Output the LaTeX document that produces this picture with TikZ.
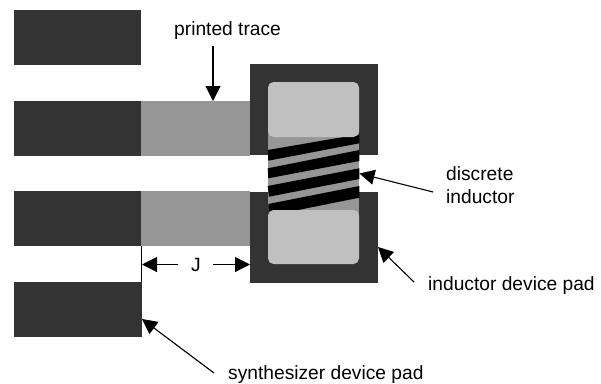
\documentclass[tikz,border=0pt]{standalone}
\usepackage{fontspec}
\setmainfont{Liberation Sans}
\usetikzlibrary{arrows.meta}
\definecolor{paddark}{HTML}{333333}
\definecolor{tracegray}{HTML}{969696}
\definecolor{lightgray}{HTML}{C0C0C0}
\tikzset{
 x=1pt,y=-1pt,
 pad/.style={fill=paddark,draw=none},
 tracebar/.style={fill=tracegray,draw=none},
 endcap/.style={fill=lightgray,draw=none,rounded corners=5.5pt},
 coil/.style={fill=black,draw=none},
 lbl/.style={font=\fontsize{19.2}{23}\selectfont,inner sep=0pt,text=black},
 pointer/.style={draw=black,line width=1.1pt,-{Triangle[length=15pt,width=15pt]}}
}
\begin{document}
\begin{tikzpicture}
\useasboundingbox[fill=white] (0,0) rectangle (601,383);
% synthesizer pads
\fill[pad] (14,10) rectangle (141,65);
\fill[pad] (14,101) rectangle (141,156);
\fill[pad] (14,191) rectangle (141,246);
\fill[pad] (14,282) rectangle (142,337);
% traces
\fill[tracebar] (141,101) rectangle (250,156);
\fill[tracebar] (141,191) rectangle (250,246);
% inductor pads
\fill[pad] (250,64) rectangle (378,155);
\fill[pad] (250,192) rectangle (378,283);
% inductor body
\fill[tracegray] (268,130) rectangle (359,216);
% windings
\fill[coil] (267.7,150) -- (359.3,134.3) -- (359.3,143.3) -- (268.3,160.7) -- cycle;
\fill[coil] (267.7,168.3) -- (359.3,150) -- (359.3,161) -- (268.3,178.3) -- cycle;
\fill[coil] (267.7,186) -- (359.3,168.3) -- (359.3,179) -- (269,196.7) -- cycle;
\fill[coil] (268.3,204) -- (359.3,186) -- (359.3,197.7) -- (268.3,216) -- cycle;
% end caps
\fill[endcap] (268,82) rectangle (359,137);
\fill[endcap] (268,210) rectangle (359,264);
% J dimension
\coordinate (jedge) at (141,246);
\coordinate (jbottom) at (141,282);
\draw[black,line width=1pt] (jedge) -- (jbottom);
\node[lbl,anchor=base] (jlabel) at (196,271) {J};
\coordinate (jleft) at (142,264.5);
\coordinate (jright) at (250,264.5);
\draw[pointer] (178,264.5) -- (jleft);
\draw[pointer] (213,264.5) -- (jright);
% labels
\node[lbl,anchor=base west] (ptrace) at (174,35) {printed trace};
\coordinate (ptip) at (213,101);
\draw[pointer] (213,46) -- (ptip);
\node[lbl,anchor=base west] (dind) at (446,180) {discrete};
\node[lbl,anchor=base west] (dindb) at (446,203) {inductor};
\coordinate (dtip) at (359.5,173.5);
\draw[pointer] (433,192) -- (dtip);
\node[lbl,anchor=base west] (ipad) at (428,290) {inductor device pad};
\coordinate (itip) at (378,247);
\draw[pointer] (414,282) -- (itip);
\node[lbl,anchor=base west] (spad) at (228,379) {synthesizer device pad};
\coordinate (stip) at (142,319);
\draw[pointer] (214,373) -- (stip);
\end{tikzpicture}
\end{document}
